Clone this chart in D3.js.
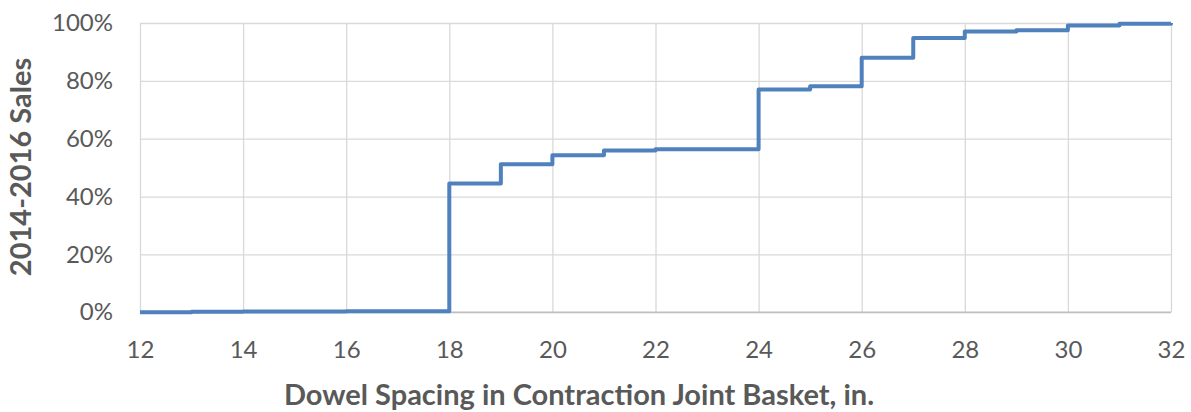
<!DOCTYPE html>
<html>
<head>
<meta charset="utf-8">
<script src="https://cdn.jsdelivr.net/npm/d3@7"></script>
<style>
  body { margin: 0; background: #fff; }
  .grid line { stroke: #d9d9d9; stroke-width: 1.3; }
  .grid path { display: none; }
  .tick text { font-family: Lato, sans-serif; fill: #595959; }
</style>
</head>
<body>
<div id="chart"></div>
<script>
// spacing (in.) where each step starts, and cumulative share of sales
const spacing = [12, 13, 14, 15, 16, 17, 18, 19, 20, 21, 22, 23, 24, 25, 26, 27, 28, 29, 30, 31, 32];
const cumShare = [0, 0.002, 0.003, 0.003, 0.004, 0.004, 0.445, 0.512, 0.543, 0.559, 0.564, 0.564, 0.770, 0.781, 0.880, 0.948, 0.971, 0.975, 0.991, 0.997, 1.0];
const xTicks = [12, 14, 16, 18, 20, 22, 24, 26, 28, 30, 32];
const yTicks = [0, 0.2, 0.4, 0.6, 0.8, 1.0];

const W = 1191, H = 412;
const margin = { top: 23, right: 20, bottom: 100, left: 140 };
const width = 1171 - margin.left;
const height = 312.3 - margin.top;

const svg = d3.select("#chart")
    .append("svg")
    .attr("width", W)
    .attr("height", H);

const g = svg.append("g")
    .attr("transform", `translate(${margin.left}, ${margin.top})`);

const x = d3.scaleLinear().domain([12, 32]).range([0, width]);
const y = d3.scaleLinear().domain([0, 1]).range([height, 0]);

// gridlines
g.append("g")
    .attr("class", "grid")
    .call(d3.axisLeft(y).tickValues(yTicks).tickSize(-width).tickFormat(""));
g.append("g")
    .attr("class", "grid")
    .attr("transform", `translate(0, ${height})`)
    .call(d3.axisBottom(x).tickValues(xTicks).tickSize(-height).tickFormat(""));

// bottom axis line
g.append("line")
    .attr("x1", 0).attr("x2", width)
    .attr("y1", height).attr("y2", height)
    .attr("stroke", "#bfbfbf").attr("stroke-width", 1.5);

// tick labels
const xAxis = g.append("g")
    .attr("transform", `translate(0, ${height})`)
    .call(d3.axisBottom(x).tickValues(xTicks).tickSize(0).tickPadding(29));
xAxis.select(".domain").remove();
xAxis.selectAll("text").style("font-size", "24px");

const yAxis = g.append("g")
    .call(d3.axisLeft(y).tickValues(yTicks).tickSize(0).tickPadding(27)
        .tickFormat(d3.format(".0%")));
yAxis.select(".domain").remove();
yAxis.selectAll("text").style("font-size", "24px");

// cumulative step line
const data = spacing.map((s, i) => ({ s: s, v: cumShare[i] }));
const line = d3.line()
    .x(d => x(d.s))
    .y(d => y(d.v))
    .curve(d3.curveStepAfter);

g.append("path")
    .datum(data)
    .attr("fill", "none")
    .attr("stroke", "#4f81bd")
    .attr("stroke-width", 4)
    .attr("stroke-linejoin", "round")
    .attr("d", line);

// axis titles
svg.append("text")
    .attr("x", 579)
    .attr("y", 405)
    .attr("text-anchor", "middle")
    .style("font-family", "Lato, sans-serif")
    .style("font-weight", "700")
    .style("font-size", "29px")
    .style("fill", "#595959")
    .text("Dowel Spacing in Contraction Joint Basket, in.");

svg.append("text")
    .attr("transform", "translate(31, 167) rotate(-90)")
    .attr("text-anchor", "middle")
    .style("font-family", "Lato, sans-serif")
    .style("font-weight", "700")
    .style("font-size", "29px")
    .style("fill", "#595959")
    .text("2014-2016 Sales");
</script>
</body>
</html>
